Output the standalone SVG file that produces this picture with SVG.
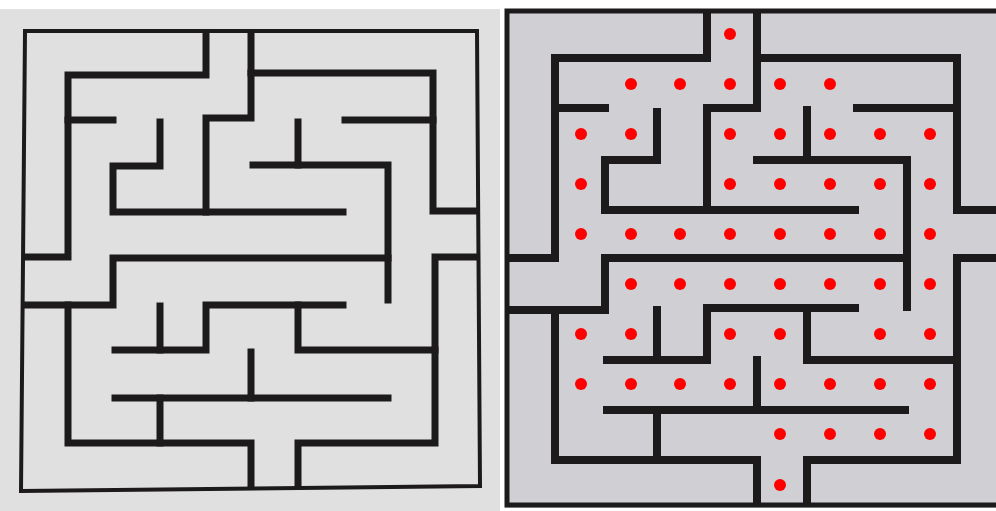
<svg xmlns="http://www.w3.org/2000/svg" width="996" height="511" viewBox="0 0 996 511">
<style>
.wl{fill:none;stroke:#1d1a1b;stroke-width:7;stroke-linecap:square;stroke-linejoin:miter}
.wr{fill:none;stroke:#1d1a1b;stroke-width:8;stroke-linecap:square;stroke-linejoin:miter}
.dot{fill:#ff0000}
</style>
<rect x="0" y="0" width="996" height="511" fill="#ffffff"/>
<g id="left-maze">
<rect x="0" y="9" width="500" height="502" fill="#e1e0e0"/>
<polygon points="25,31 477,31 480,486 21,491" fill="none" stroke="#1d1a1b" stroke-width="4"/>
<path class="wl" d="M206,34 V75 H68 V257 H26"/>
<path class="wl" d="M68,120 H113"/>
<path class="wl" d="M160,122 V166 H113 V212 H343"/>
<path class="wl" d="M206,212 V118 H251 V34"/>
<path class="wl" d="M251,73 H433 V211 H476"/>
<path class="wl" d="M345,120 H433"/>
<path class="wl" d="M298,122 V165"/>
<path class="wl" d="M253,165 H388 V300"/>
<path class="wl" d="M388,258 H113 V305 H26"/>
<path class="wl" d="M476,257 H435 V443 H298 V485"/>
<path class="wl" d="M251,486 V443 H68 V305"/>
<path class="wl" d="M160,398 V443"/>
<path class="wl" d="M115,398 H388"/>
<path class="wl" d="M251,352 V398"/>
<path class="wl" d="M115,350 H206 V305 H343"/>
<path class="wl" d="M160,306 V350"/>
<path class="wl" d="M298,305 V350 H435"/>
</g>
<g id="right-maze">
<rect x="505" y="9" width="491" height="499" fill="#d0d0d4"/>
<path d="M996,11 H507 V505 H996" fill="none" stroke="#1d1a1b" stroke-width="5"/>
<path class="wr" d="M707,14 V58 H555 V258 H510"/>
<path class="wr" d="M555,108 H605"/>
<path class="wr" d="M657,112 V160 H605 V210 H855"/>
<path class="wr" d="M707,210 V108 H757 V14"/>
<path class="wr" d="M757,58 H957 V210 H996"/>
<path class="wr" d="M857,108 H957"/>
<path class="wr" d="M807,110 V160"/>
<path class="wr" d="M757,160 H907 V307"/>
<path class="wr" d="M907,258 H605 V310 H510"/>
<path class="wr" d="M996,258 H957 V460 H807 V502"/>
<path class="wr" d="M757,502 V460 H555 V310"/>
<path class="wr" d="M657,410 V460"/>
<path class="wr" d="M607,410 H905"/>
<path class="wr" d="M757,360 V410"/>
<path class="wr" d="M607,360 H707 V308 H855"/>
<path class="wr" d="M657,310 V360"/>
<path class="wr" d="M807,308 V360 H957"/>
</g>
<g id="dots">
<circle class="dot" cx="730" cy="34" r="6"/>
<circle class="dot" cx="631" cy="84" r="6"/><circle class="dot" cx="680" cy="84" r="6"/><circle class="dot" cx="730" cy="84" r="6"/><circle class="dot" cx="780" cy="84" r="6"/><circle class="dot" cx="830" cy="84" r="6"/>
<circle class="dot" cx="581" cy="134" r="6"/><circle class="dot" cx="631" cy="134" r="6"/><circle class="dot" cx="730" cy="134" r="6"/><circle class="dot" cx="780" cy="134" r="6"/><circle class="dot" cx="830" cy="134" r="6"/><circle class="dot" cx="880" cy="134" r="6"/><circle class="dot" cx="930" cy="134" r="6"/>
<circle class="dot" cx="581" cy="184" r="6"/><circle class="dot" cx="730" cy="184" r="6"/><circle class="dot" cx="780" cy="184" r="6"/><circle class="dot" cx="830" cy="184" r="6"/><circle class="dot" cx="880" cy="184" r="6"/><circle class="dot" cx="930" cy="184" r="6"/>
<circle class="dot" cx="581" cy="234" r="6"/><circle class="dot" cx="631" cy="234" r="6"/><circle class="dot" cx="680" cy="234" r="6"/><circle class="dot" cx="730" cy="234" r="6"/><circle class="dot" cx="780" cy="234" r="6"/><circle class="dot" cx="830" cy="234" r="6"/><circle class="dot" cx="880" cy="234" r="6"/><circle class="dot" cx="930" cy="234" r="6"/>
<circle class="dot" cx="631" cy="284" r="6"/><circle class="dot" cx="680" cy="284" r="6"/><circle class="dot" cx="730" cy="284" r="6"/><circle class="dot" cx="780" cy="284" r="6"/><circle class="dot" cx="830" cy="284" r="6"/><circle class="dot" cx="880" cy="284" r="6"/><circle class="dot" cx="930" cy="284" r="6"/>
<circle class="dot" cx="581" cy="334" r="6"/><circle class="dot" cx="631" cy="334" r="6"/><circle class="dot" cx="730" cy="334" r="6"/><circle class="dot" cx="780" cy="334" r="6"/><circle class="dot" cx="880" cy="334" r="6"/><circle class="dot" cx="930" cy="334" r="6"/>
<circle class="dot" cx="581" cy="384" r="6"/><circle class="dot" cx="631" cy="384" r="6"/><circle class="dot" cx="680" cy="384" r="6"/><circle class="dot" cx="730" cy="384" r="6"/><circle class="dot" cx="780" cy="384" r="6"/><circle class="dot" cx="830" cy="384" r="6"/><circle class="dot" cx="880" cy="384" r="6"/><circle class="dot" cx="930" cy="384" r="6"/>
<circle class="dot" cx="780" cy="434" r="6"/><circle class="dot" cx="830" cy="434" r="6"/><circle class="dot" cx="880" cy="434" r="6"/><circle class="dot" cx="930" cy="434" r="6"/>
<circle class="dot" cx="780" cy="485" r="6"/>
</g>
</svg>
